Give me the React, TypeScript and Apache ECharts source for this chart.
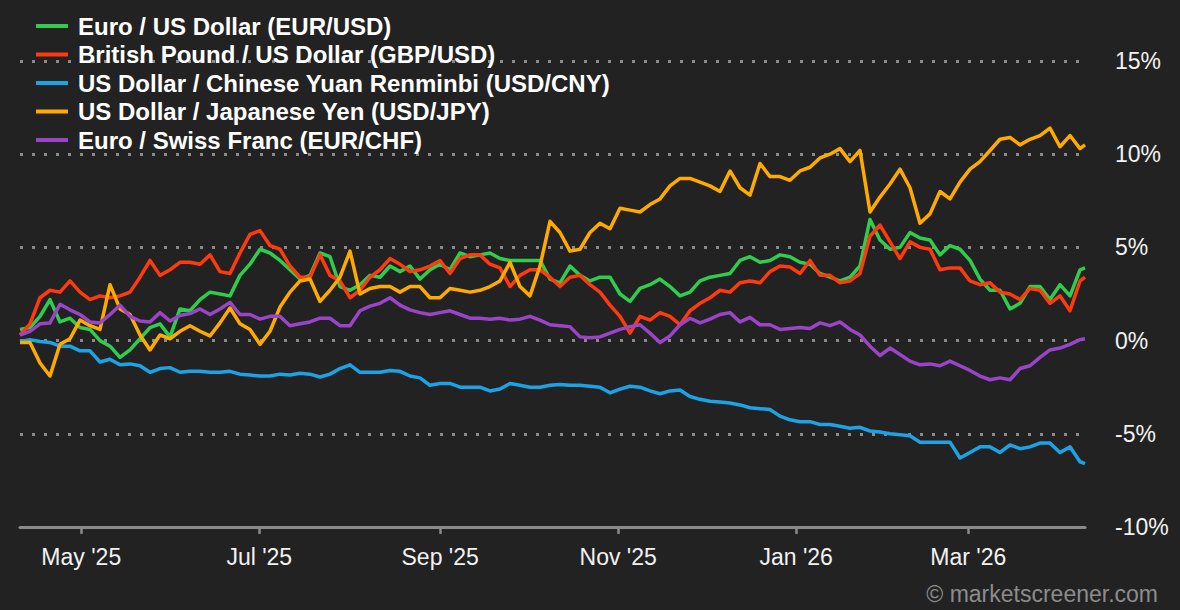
import React, { useEffect, useRef } from 'react';
import * as echarts from 'echarts';

// Time span of the chart (one year), x is expressed in days since START
const START = Date.UTC(2025, 3, 10);
const END = Date.UTC(2026, 3, 10);
const DAY = 86400000;
const SPAN_DAYS = (END - START) / DAY;

// Tick labels of the x axis (first day of every other month)
const tickDates = [
  Date.UTC(2025, 4, 1),
  Date.UTC(2025, 6, 1),
  Date.UTC(2025, 8, 1),
  Date.UTC(2025, 10, 1),
  Date.UTC(2026, 0, 1),
  Date.UTC(2026, 2, 1),
];
const tickLabels = ["May '25", "Jul '25", "Sep '25", "Nov '25", "Jan '26", "Mar '26"];
const tickDays = tickDates.map((t) => (t - START) / DAY);

const seriesNames = [
  'Euro / US Dollar (EUR/USD)',
  'British Pound / US Dollar (GBP/USD)',
  'US Dollar / Chinese Yuan Renminbi (USD/CNY)',
  'US Dollar / Japanese Yen (USD/JPY)',
  'Euro / Swiss Franc (EUR/CHF)',
];
const seriesColors = ['#2fcc4e', '#ff3a0e', '#1ba3e6', '#ffaa00', '#9a44c8'];

// Performance in % (sampled through the year)
const eurUsd = [
  0.6, 0.7, 1.3, 2.2, 1.0, 1.2, 0.7, 0.6, 0.0, -0.3,
  -0.9, -0.5, 0.1, 0.7, 0.9, 0.2, 1.7, 1.6, 2.2, 2.6,
  2.5, 2.4, 3.5, 4.1, 4.9, 4.7, 4.3, 3.8, 3.3, 3.5,
  4.7, 4.5, 2.9, 2.7, 3.0, 3.5, 3.4, 4.0, 3.7, 4.0,
  3.3, 3.8, 4.1, 3.8, 4.7, 4.5, 4.6, 4.7, 4.4, 4.3,
  4.3, 4.3, 4.3, 3.3, 3.1, 4.0, 3.5, 3.2, 3.4, 3.4,
  2.5, 2.1, 2.8, 3.0, 3.3, 2.9, 2.4, 2.6, 3.2, 3.4,
  3.5, 3.6, 4.3, 4.5, 4.2, 4.3, 4.6, 4.5, 4.2, 4.1,
  3.6, 3.4, 3.2, 3.4, 4.0, 6.5, 5.4, 4.9, 5.0, 5.8,
  5.5, 5.4, 4.6, 5.1, 4.9, 4.3, 3.3, 2.7, 2.7, 1.7,
  2.0, 2.9, 2.9, 2.2, 3.0, 2.4, 3.8, 3.9,
];
const gbpUsd = [
  0.3, 0.9, 2.3, 2.7, 2.6, 3.2, 2.6, 2.2, 2.4, 2.3,
  2.4, 2.6, 3.4, 4.3, 3.5, 3.8, 4.2, 4.2, 4.1, 4.6,
  3.7, 3.6, 4.7, 5.7, 5.9, 5.1, 4.9, 4.0, 3.4, 3.4,
  4.6, 3.5, 3.2, 2.3, 2.7, 3.4, 3.8, 4.4, 4.1, 3.7,
  3.8, 4.0, 4.3, 3.6, 4.4, 4.6, 4.6, 4.1, 3.9, 2.9,
  3.5, 3.8, 3.8, 3.4, 2.9, 3.4, 3.5, 3.0, 2.6, 1.9,
  1.3, 0.4, 1.3, 1.1, 1.5, 1.3, 0.85, 1.6, 2.0, 2.3,
  2.7, 2.6, 3.1, 3.2, 3.1, 3.7, 4.0, 3.95, 3.6, 4.3,
  3.5, 3.5, 3.1, 3.2, 3.6, 5.6, 6.2, 5.3, 4.4, 5.3,
  5.0, 4.9, 3.8, 3.9, 3.9, 3.2, 3.0, 3.1, 2.6, 2.5,
  2.2, 2.8, 2.7, 2.0, 2.4, 1.6, 3.2, 3.4,
];
const usdCny = [
  -0.05, 0.05, -0.05, -0.1, -0.3, -0.3, -0.55, -0.55, -1.15, -1.0,
  -1.3, -1.25, -1.35, -1.7, -1.5, -1.45, -1.7, -1.65, -1.65, -1.7,
  -1.7, -1.65, -1.8, -1.85, -1.9, -1.9, -1.8, -1.85, -1.75, -1.8,
  -1.95, -1.8, -1.5, -1.3, -1.7, -1.7, -1.7, -1.6, -1.65, -1.9,
  -2.0, -2.4, -2.3, -2.3, -2.5, -2.5, -2.5, -2.7, -2.6, -2.3,
  -2.4, -2.5, -2.5, -2.4, -2.35, -2.4, -2.4, -2.45, -2.5, -2.8,
  -2.6, -2.45, -2.5, -2.7, -2.85, -2.7, -2.65, -3.0, -3.15, -3.25,
  -3.3, -3.35, -3.45, -3.6, -3.65, -3.7, -4.05, -4.25, -4.35, -4.35,
  -4.5, -4.5, -4.6, -4.7, -4.65, -4.85, -4.9, -5.0, -5.05, -5.1,
  -5.45, -5.45, -5.45, -5.45, -6.3, -6.0, -5.7, -5.7, -6.0, -5.6,
  -5.8, -5.7, -5.5, -5.5, -6.0, -5.7, -6.5, -6.6,
];
const usdJpy = [
  -0.1, -0.1, -1.2, -1.9, -0.2, 0.1, 1.1, 0.8, 0.6, 3.0,
  1.7, 1.4, 0.3, -0.5, 0.3, 0.1, 0.5, 0.8, 0.5, 0.25,
  0.95, 1.75, 0.9, 0.6, -0.2, 0.5, 1.8, 2.6, 3.2, 3.3,
  2.1, 2.7, 3.4, 4.8, 2.5, 2.8, 2.9, 2.9, 2.6, 2.9,
  2.9, 2.3, 2.3, 2.8, 2.7, 2.6, 2.7, 2.9, 3.2, 4.2,
  2.9, 2.4, 4.0, 6.4, 5.8, 4.8, 4.9, 5.8, 6.3, 6.0,
  7.1, 7.0, 6.9, 7.3, 7.6, 8.3, 8.7, 8.7, 8.5, 8.3,
  8.0, 9.1, 8.2, 7.8, 9.5, 8.8, 8.8, 8.6, 9.1, 9.3,
  9.8, 10.0, 10.3, 9.6, 10.2, 6.9, 7.7, 8.4, 9.2, 8.2,
  6.3, 6.8, 8.0, 7.6, 8.5, 9.2, 9.6, 10.2, 10.8, 10.9,
  10.5, 10.8, 11.0, 11.4, 10.4, 11.0, 10.3, 10.5,
];
const eurChf = [
  0.3, 0.5, 0.9, 0.95, 1.95, 1.65, 1.4, 1.0, 0.95, 1.4,
  1.9, 1.3, 1.05, 1.0, 1.5, 1.05, 1.35, 1.45, 1.7, 1.4,
  1.7, 2.05, 1.4, 1.4, 1.15, 1.3, 1.3, 0.8, 0.9, 1.0,
  1.2, 1.2, 0.8, 0.8, 1.6, 1.85, 2.0, 2.3, 1.9, 1.65,
  1.5, 1.4, 1.5, 1.6, 1.4, 1.2, 1.2, 1.15, 1.2, 1.1,
  1.15, 1.3, 1.1, 0.85, 0.8, 0.75, 0.2, 0.15, 0.2, 0.4,
  0.6, 0.75, 0.85, 0.4, -0.1, 0.25, 0.85, 1.2, 0.95, 1.15,
  1.4, 1.5, 1.0, 1.25, 0.85, 0.85, 0.6, 0.65, 0.7, 0.65,
  0.95, 0.8, 1.0, 0.6, 0.3, -0.3, -0.8, -0.4, -0.75, -1.1,
  -1.3, -1.25, -1.35, -1.1, -1.35, -1.6, -1.9, -2.1, -2.0, -2.1,
  -1.5, -1.35, -0.9, -0.5, -0.4, -0.2, 0.05, 0.1,
];

const yMin = -10;
const yMax = 15;
const yStep = 5;

const allValues = [eurUsd, gbpUsd, usdCny, usdJpy, eurChf];

// sample positions (days since START): evenly spaced, last one on the final day
const SAMPLE_COUNT = eurUsd.length;
const sampleDays = eurUsd.map((_, i) =>
  i === SAMPLE_COUNT - 1 ? SPAN_DAYS : (i * SPAN_DAYS) / (SAMPLE_COUNT - 1.5)
);

const FONT = '"Liberation Sans", Arial, Helvetica, sans-serif';

export default function App() {
  const ref = useRef<HTMLDivElement>(null);

  useEffect(() => {
    if (!ref.current) return;
    const chart = echarts.init(ref.current, null, { renderer: 'svg' });

    const series = seriesNames.map((name, k) => ({
      name,
      type: 'line',
      showSymbol: false,
      symbol: 'none',
      color: seriesColors[k],
      lineStyle: { width: 3.5, color: seriesColors[k], join: 'round' },
      emphasis: { disabled: true },
      data: sampleDays.map((d, i) => [d, allValues[k][i]]),
    }));

    chart.setOption({
      animation: false,
      backgroundColor: '#222222',
      textStyle: { fontFamily: FONT },
      grid: { left: 20, right: 95, top: 61, bottom: 83, containLabel: false },
      legend: {
        show: true,
        orient: 'vertical',
        left: 36,
        top: 14,
        padding: 0,
        itemWidth: 32,
        itemHeight: 4,
        itemGap: 4.5,
        icon: 'rect',
        selectedMode: false,
        data: seriesNames,
        textStyle: {
          color: '#ffffff',
          fontSize: 24,
          lineHeight: 24,
          fontWeight: 'bold',
          fontFamily: FONT,
          padding: [0, 0, 0, 5],
        },
      },
      xAxis: {
        type: 'value',
        min: 0,
        max: SPAN_DAYS,
        axisLine: { show: true, onZero: false, lineStyle: { color: '#8a8a8a', width: 3 } },
        axisTick: {
          show: true,
          length: 7,
          customValues: tickDays,
          lineStyle: { color: '#8a8a8a', width: 2.5 },
        },
        axisLabel: {
          customValues: tickDays,
          color: '#f2f2f2',
          fontSize: 23,
          fontFamily: FONT,
          margin: 18,
          formatter: (v: number) => {
            let best = 0;
            tickDays.forEach((t, i) => {
              if (Math.abs(t - v) < Math.abs(tickDays[best] - v)) best = i;
            });
            return tickLabels[best];
          },
        },
        splitLine: { show: false },
      },
      yAxis: {
        type: 'value',
        position: 'right',
        min: yMin,
        max: yMax,
        interval: yStep,
        axisLine: { show: false },
        axisTick: { show: false },
        axisLabel: {
          color: '#f2f2f2',
          fontSize: 23,
          fontFamily: FONT,
          margin: 30,
          formatter: (v: number) => `${v}%`,
        },
        splitLine: {
          show: true,
          lineStyle: { color: '#8a8a8a', width: 3, type: [3, 9] },
        },
      },
      graphic: [
        {
          type: 'text',
          right: 22,
          bottom: 5,
          style: {
            text: '© marketscreener.com',
            fill: '#8c8c8c',
            font: `23px ${FONT}`,
          },
        },
      ],
      series,
    });

    return () => chart.dispose();
  }, []);

  return (
    <div
      ref={ref}
      style={{ position: 'absolute', left: 0, top: 0, width: 1180, height: 610 }}
    />
  );
}
